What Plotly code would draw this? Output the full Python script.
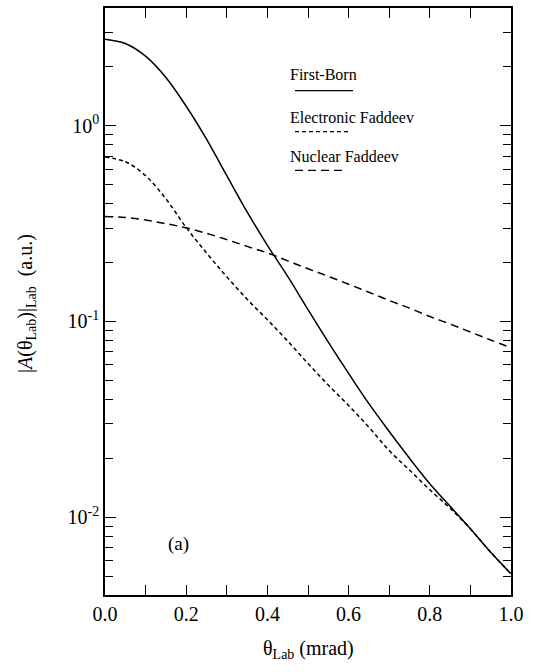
import plotly.graph_objects as go

# ---- data ----
theta = [0.00, 0.05, 0.10, 0.15, 0.20, 0.25, 0.30, 0.35, 0.40, 0.45, 0.50,
         0.55, 0.60, 0.65, 0.70, 0.75, 0.80, 0.85, 0.90, 0.95, 1.00]

first_born = [2.773, 2.636, 2.270, 1.766, 1.259, 0.855, 0.556, 0.363, 0.245, 0.170, 0.115,
              0.0785, 0.0543, 0.0380, 0.0274, 0.0200, 0.0148, 0.01135, 0.00871, 0.00661, 0.00513]

electronic_faddeev = [0.692, 0.655, 0.556, 0.423, 0.302, 0.224, 0.169, 0.130, 0.102, 0.0794, 0.0610,
                      0.0473, 0.0372, 0.0288, 0.0219, 0.0174, 0.0138, 0.0111, 0.00871, 0.00661, 0.00513]

nuclear_faddeev = [0.344, 0.340, 0.330, 0.316, 0.301, 0.282, 0.262, 0.242, 0.224, 0.204, 0.186,
                   0.170, 0.155, 0.141, 0.128, 0.117, 0.106, 0.0970, 0.0883, 0.0804, 0.0733]

x_tick_vals = [0.0, 0.2, 0.4, 0.6, 0.8, 1.0]
x_tick_text = ["0.0", "0.2", "0.4", "0.6", "0.8", "1.0"]
y_tick_vals = [0.01, 0.1, 1.0]
y_tick_text = ["10<sup>-2</sup>", "10<sup>-1</sup>", "10<sup>0</sup>"]

series_names = ["First-Born", "Electronic Faddeev", "Nuclear Faddeev"]

FONT = "Liberation Serif, Times New Roman, serif"

fig = go.Figure()
fig.add_trace(go.Scatter(x=theta, y=first_born, mode="lines", name=series_names[0],
                         line=dict(color="black", width=1.5, shape="spline")))
fig.add_trace(go.Scatter(x=theta, y=electronic_faddeev, mode="lines", name=series_names[1],
                         line=dict(color="black", width=1.5, dash="4px,3px", shape="spline")))
fig.add_trace(go.Scatter(x=theta, y=nuclear_faddeev, mode="lines", name=series_names[2],
                         line=dict(color="black", width=1.5, dash="8px,5px", shape="spline")))

# minor tick positions on log axis
minor_y = []
for dec in [0.001, 0.01, 0.1, 1.0]:
    for m in range(2, 10):
        v = m * dec
        if 0.004 <= v <= 4.0:
            minor_y.append(v)

L, R, T, B = 105, 26, 6, 77
W, H = 537, 672
pw, ph = W - L - R, H - T - B


def px(x):
    return (x - L) / pw


def py(y):
    return (H - B - y) / ph


fig.update_layout(
    width=W, height=H,
    margin=dict(l=L, r=R, t=T, b=B),
    paper_bgcolor="white", plot_bgcolor="white",
    showlegend=False,
    font=dict(family=FONT, color="black", size=19),
)

fig.update_xaxes(
    range=[0, 1], tickvals=x_tick_vals, ticktext=x_tick_text,
    ticks="inside", ticklen=10, tickwidth=1.2, tickcolor="black",
    showline=True, linecolor="black", linewidth=1.5, mirror="ticks",
    showgrid=False, zeroline=False,
    tickfont=dict(family=FONT, size=20),
    minor=dict(dtick=0.1, ticks="inside", ticklen=10, tickwidth=1.2, tickcolor="black", showgrid=False),
)
fig.update_yaxes(
    type="log", range=[-2.398, 0.602],
    tickvals=y_tick_vals, ticktext=y_tick_text,
    ticks="inside", ticklen=11, tickwidth=1.2, tickcolor="black",
    showline=True, linecolor="black", linewidth=1.5, mirror="ticks",
    showgrid=False, zeroline=False,
    tickfont=dict(family=FONT, size=20),
    minor=dict(tickvals=minor_y, ticks="inside", ticklen=8, tickwidth=1.2, tickcolor="black", showgrid=False),
)

# legend (drawn as text + line samples)
leg_text_y = [73, 116, 155]
leg_line_y = [89, 130, 169]
leg_line_x1 = [353, 351, 347]
leg_dash = ["solid", "4px,3px", "8px,5px"]
for name, ty, ly, x1, d in zip(series_names, leg_text_y, leg_line_y, leg_line_x1, leg_dash):
    fig.add_annotation(x=px(288), y=py(ty), xref="paper", yref="paper", text=name,
                       showarrow=False, xanchor="left", yanchor="middle",
                       font=dict(family=FONT, size=16, color="black"))
    fig.add_shape(type="line", xref="paper", yref="paper",
                  x0=px(295), x1=px(x1), y0=py(ly), y1=py(ly),
                  line=dict(color="black", width=1.3, dash=d))

# panel label
fig.add_annotation(x=px(178), y=py(544), xref="paper", yref="paper", text="(a)",
                   showarrow=False, xanchor="center", yanchor="middle",
                   font=dict(family=FONT, size=19, color="black"))

# axis titles
fig.add_annotation(x=0.5, y=py(650), xref="paper", yref="paper",
                   text="θ<sub>Lab</sub> (mrad)", showarrow=False,
                   xanchor="center", yanchor="middle",
                   font=dict(family=FONT, size=20, color="black"))
fig.add_annotation(x=px(27), y=py(303), xref="paper", yref="paper",
                   text="|<i>A</i>(θ<sub>Lab</sub>)|<sub>Lab</sub>  (a.u.)", showarrow=False,
                   textangle=-90, xanchor="center", yanchor="middle",
                   font=dict(family=FONT, size=20, color="black"))

fig.write_html("out.html", config={"displayModeBar": False},
               post_script="document.body.style.margin='0';document.body.style.overflow='hidden';")
